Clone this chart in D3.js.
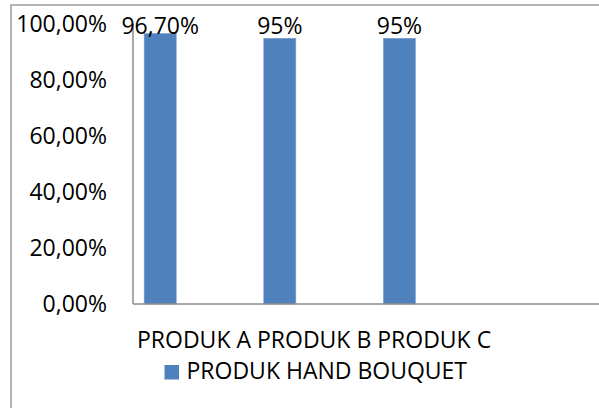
<!DOCTYPE html>
<html>
<head>
<meta charset="utf-8">
<script src="https://cdn.jsdelivr.net/npm/d3@7"></script>
<style>
  html, body { margin: 0; padding: 0; background: #fff; }
  svg { display: block; }
  text { font-family: "Open Sans", "Noto Sans", sans-serif; fill: #000; }
</style>
</head>
<body>
<svg id="chart" width="599" height="408"></svg>
<script>
const categories = ["PRODUK A", "PRODUK B", "PRODUK C"];
const values = [0.967, 0.95, 0.95];
const valueLabels = ["96,70%", "95%", "95%"];
const yTicks = [0, 0.2, 0.4, 0.6, 0.8, 1.0];
const yTickLabels = ["0,00%", "20,00%", "40,00%", "60,00%", "80,00%", "100,00%"];
const seriesName = "PRODUK HAND BOUQUET";

const svg = d3.select("#chart");
const plotLeft = 133, plotRight = 610, plotTop = 24.3, plotBottom = 304;
const barColor = "#4F81BD";
const fontSize = 23;

// outer chart border (extends beyond the visible crop)
svg.append("rect")
  .attr("x", 11).attr("y", 5)
  .attr("width", 620).attr("height", 440)
  .attr("fill", "none").attr("stroke", "#9a9a9a").attr("stroke-width", 1.5);

const y = d3.scaleLinear().domain([0, 1]).range([plotBottom, plotTop]);
const x = d3.scaleBand().domain(categories)
  .range([100.4, 459.2]).paddingInner(0.732).paddingOuter(0.366);

// bars
svg.append("g").selectAll("rect")
  .data(values)
  .join("rect")
  .attr("x", (d, i) => x(categories[i]))
  .attr("width", x.bandwidth())
  .attr("y", d => y(d))
  .attr("height", d => y(0) - y(d))
  .attr("fill", barColor)
  .attr("stroke", "#7b9fd0").attr("stroke-width", 0.6);

// axes lines
svg.append("line")
  .attr("x1", plotLeft).attr("x2", plotLeft)
  .attr("y1", y(1)).attr("y2", y(0))
  .attr("stroke", "#8c8c8c").attr("stroke-width", 1.5);
svg.append("line")
  .attr("x1", plotLeft).attr("x2", plotRight)
  .attr("y1", y(0)).attr("y2", y(0))
  .attr("stroke", "#8c8c8c").attr("stroke-width", 1.5);

// y tick labels
svg.append("g").selectAll("text")
  .data(yTicks)
  .join("text")
  .attr("x", 107)
  .attr("y", d => y(d))
  .attr("dy", "0.35em")
  .attr("text-anchor", "end")
  .attr("font-size", fontSize)
  .text((d, i) => yTickLabels[i]);

// value labels
svg.append("g").selectAll("text")
  .data(values)
  .join("text")
  .attr("x", (d, i) => x(categories[i]) + x.bandwidth() / 2)
  .attr("y", d => Math.max(y(d) - 4, plotTop + 9.5))
  .attr("text-anchor", "middle")
  .attr("font-size", fontSize)
  .text((d, i) => valueLabels[i]);

// category labels (rendered on one line as in the reference)
const catText = svg.append("text")
  .attr("x", 137)
  .attr("y", 348)
  .attr("font-size", fontSize);
catText.selectAll("tspan")
  .data(categories)
  .join("tspan")
  .text((d, i) => (i > 0 ? " " : "") + d);

// legend
svg.append("rect")
  .attr("x", 164.5).attr("y", 365)
  .attr("width", 14.5).attr("height", 14.5)
  .attr("fill", barColor);
svg.append("text")
  .attr("x", 186.5).attr("y", 379.3)
  .attr("font-size", fontSize)
  .text(seriesName);
</script>
</body>
</html>
